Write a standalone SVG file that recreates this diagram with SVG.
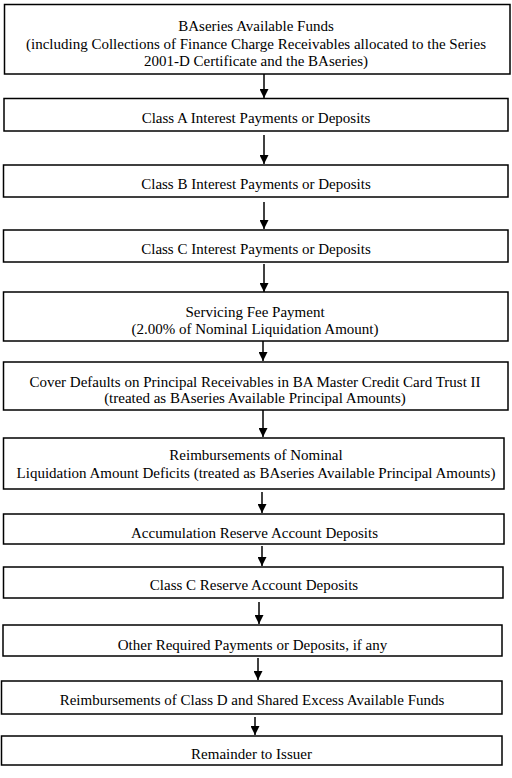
<svg xmlns="http://www.w3.org/2000/svg" width="512" height="778" viewBox="0 0 512 778">
<style>
rect.box { fill: #fff; stroke: #000; stroke-width: 1.5; }
text { font-family: "Liberation Serif", "Times New Roman", serif; font-size: 15px; fill: #000; text-anchor: middle; }
line.arr { stroke: #000; stroke-width: 1.5; marker-end: url(#ah); }
</style>
<defs>
<marker id="ah" viewBox="0 0 10 10" refX="10" refY="5" markerWidth="6" markerHeight="6" orient="auto" markerUnits="strokeWidth">
<path d="M0,0 L10,5 L0,10 z" fill="#000"/>
</marker>
</defs>
<rect width="512" height="778" fill="#fff"/>
<g id="connectors">
<line class="arr" x1="264" y1="74" x2="264" y2="98"/>
<line class="arr" x1="264" y1="135" x2="264" y2="164"/>
<line class="arr" x1="264" y1="202" x2="264" y2="229"/>
<line class="arr" x1="264" y1="264" x2="264" y2="292"/>
<line class="arr" x1="263" y1="338" x2="263" y2="361"/>
<line class="arr" x1="263" y1="410" x2="263" y2="437"/>
<line class="arr" x1="262" y1="492" x2="262" y2="513"/>
<line class="arr" x1="262" y1="546" x2="262" y2="566"/>
<line class="arr" x1="259" y1="602" x2="259" y2="624"/>
<line class="arr" x1="258" y1="658" x2="258" y2="680"/>
<line class="arr" x1="255" y1="717" x2="255" y2="735"/>
</g>
<g id="n1"><rect class="box" x="4.5" y="4.5" width="505.5" height="69.5"/>
<text x="256" y="31">BAseries Available Funds</text>
<text x="256" y="48.5">(including Collections of Finance Charge Receivables allocated to the Series</text>
<text x="256" y="66">2001-D Certificate and the BAseries)</text></g>
<g id="n2"><rect class="box" x="4" y="98.5" width="504" height="32.5"/>
<text x="256" y="122.5">Class A Interest Payments or Deposits</text></g>
<g id="n3"><rect class="box" x="3.5" y="165" width="504.5" height="32"/>
<text x="256" y="188.5">Class B Interest Payments or Deposits</text></g>
<g id="n4"><rect class="box" x="3.5" y="230" width="504.5" height="32"/>
<text x="256" y="253.5">Class C Interest Payments or Deposits</text></g>
<g id="n5"><rect class="box" x="3.5" y="292" width="504.5" height="49"/>
<text x="255" y="317">Servicing Fee Payment</text>
<text x="255" y="334">(2.00% of Nominal Liquidation Amount)</text></g>
<g id="n6"><rect class="box" x="3.5" y="362" width="504.5" height="48"/>
<text x="255" y="386.5">Cover Defaults on Principal Receivables in BA Master Credit Card Trust II</text>
<text x="255" y="403">(treated as BAseries Available Principal Amounts)</text></g>
<g id="n7"><rect class="box" x="3.5" y="438" width="500.5" height="51"/>
<text x="256" y="460">Reimbursements of Nominal</text>
<text x="256" y="478">Liquidation Amount Deficits (treated as BAseries Available Principal Amounts)</text></g>
<g id="n8"><rect class="box" x="3.5" y="514" width="500.5" height="30"/>
<text x="254.5" y="537.5">Accumulation Reserve Account Deposits</text></g>
<g id="n9"><rect class="box" x="3.5" y="567" width="499.5" height="31"/>
<text x="254" y="590">Class C Reserve Account Deposits</text></g>
<g id="n10"><rect class="box" x="3" y="625" width="499" height="31"/>
<text x="252.5" y="649.5">Other Required Payments or Deposits, if any</text></g>
<g id="n11"><rect class="box" x="1.5" y="681" width="500.5" height="33"/>
<text x="252" y="705">Reimbursements of Class D and Shared Excess Available Funds</text></g>
<g id="n12"><rect class="box" x="1.5" y="736" width="500.5" height="29"/>
<text x="251.5" y="759">Remainder to Issuer</text></g>
</svg>
